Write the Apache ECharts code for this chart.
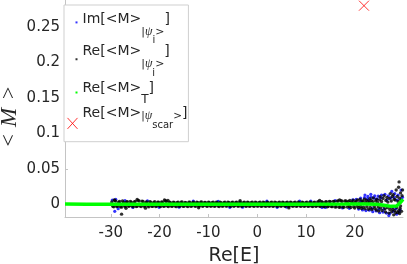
<!DOCTYPE html>
<html>
<head>
<meta charset="utf-8">
<script src="https://cdn.jsdelivr.net/npm/echarts@6/dist/echarts.min.js"></script>
<style>
html,body{margin:0;padding:0;background:#fff;}
#c{width:407px;height:264px;}
</style>
</head>
<body>
<div id="c"></div>
<script>
// ---- data ----
const xTicks = [-30, -20, -10, 0, 10, 20];
const yTicks = [0, 0.05, 0.1, 0.15, 0.2, 0.25];
const seriesNames = ['Im[<M>|ψi>]', 'Re[<M>|ψi>]', 'Re[<M>T]', 'Re[<M>|ψscar>]'];

// Im[<M>_|psi_i>]  (blue dots)
const imPoints = [
[-29.7,0.0058],[-29.2,-0.0100],[-29.0,0.0070],[-28.5,-0.0062],[-27.1,0.0052],
[-25.5,-0.0045],[-22.5,0.0048],[-20.1,-0.0044],[-16.0,-0.0042],[-13.1,0.0044],[-8.0,0.0042],[-5.6,-0.0043],
[-3.0,-0.0041],[2.0,0.0043],[4.1,-0.0044],[6.0,-0.0040],[8.7,0.0045],[11.0,0.0045],[13.3,-0.0046],[14.0,-0.0045],
[16.0,0.0050],[17.5,-0.0052],
[18.9,-0.0058],[19.6,0.0062],[20.3,0.0070],[20.8,-0.0068],[21.2,0.0085],[21.3,0.0045],[21.6,-0.0080],[22.0,0.0095],
[22.1,0.0130],[22.3,-0.0090],[22.6,0.0075],[22.7,0.0110],[22.9,0.0060],[23.0,-0.0085],[23.3,0.0140],[23.4,0.0100],
[23.6,-0.0060],[23.7,-0.0105],[24.0,0.0085],[24.1,0.0120],[24.4,-0.0095],[24.6,0.0075],[24.8,0.0115],[25.0,-0.0070],
[25.1,-0.0120],[25.4,0.0090],[25.5,0.0130],[25.8,-0.0110],[26.0,-0.0070],[26.2,0.0140],[26.5,-0.0125],[26.6,0.0060],
[26.9,0.0120],[27.0,-0.0160],[27.2,-0.0130],[27.4,0.0090],[27.6,0.0180],[27.8,-0.0040],[27.9,-0.0100],[28.1,0.0100],
[28.2,0.0150],[28.4,-0.0065],[28.6,-0.0140],[28.7,0.0060],[28.9,0.0130],[29.1,-0.0110],[29.3,-0.0080],[29.5,0.0200],
[29.6,0.0070],[29.8,0.0100]
];

// Re[<M>_|psi_i>]  (black dots)
const rePoints = [
[-29.8,0.0031],[-29.4,-0.0036],[-29.0,0.0044],[-28.6,-0.0027],[-28.2,0.0038],[-27.8,-0.0041],[-27.4,0.0025],[-27.0,-0.0033],[-26.6,0.0036],[-26.2,-0.0024],
[-25.8,0.0029],[-25.4,-0.0035],[-25.0,0.0041],[-24.6,-0.0028],[-24.2,0.0046],[-23.8,-0.0031],[-23.4,0.0038],[-23.0,-0.0026],[-22.6,0.0033],[-22.2,-0.0037],
[-21.8,0.0027],[-21.4,-0.0030],[-21.0,0.0035],[-20.6,-0.0024],[-20.2,0.0030],[-19.8,-0.0033],[-19.4,0.0028],[-19.0,-0.0027],[-18.6,0.0039],[-18.2,-0.0031],
[-17.8,0.0026],[-17.4,-0.0029],[-17.0,0.0024],[-16.6,-0.0034],[-16.2,0.0029],[-15.8,-0.0025],[-15.4,0.0031],[-15.0,-0.0028],[-14.6,0.0023],[-14.2,-0.0032],
[-13.8,0.0027],[-13.4,-0.0024],[-13.0,0.0030],[-12.6,-0.0029],[-12.2,0.0025],[-11.8,-0.0026],[-11.4,0.0032],[-11.0,-0.0023],[-10.6,0.0026],[-10.2,-0.0030],
[-9.8,0.0024],[-9.4,-0.0027],[-9.0,0.0029],[-8.6,-0.0024],[-8.2,0.0026],[-7.8,-0.0031],[-7.4,0.0023],[-7.0,-0.0025],[-6.6,0.0028],[-6.2,-0.0026],
[-5.8,0.0024],[-5.4,-0.0029],[-5.0,0.0027],[-4.6,-0.0023],[-4.2,0.0030],[-3.8,-0.0027],[-3.4,0.0025],[-3.0,-0.0024],[-2.6,0.0029],[-2.2,-0.0028],
[-1.8,0.0024],[-1.4,-0.0026],[-1.0,0.0027],[-0.6,-0.0030],[-0.2,0.0025],[0.2,-0.0024],[0.6,0.0028],[1.0,-0.0027],[1.4,0.0024],[1.8,-0.0029],
[2.2,0.0026],[2.6,-0.0025],[3.0,0.0030],[3.4,-0.0026],[3.8,0.0024],[4.2,-0.0028],[4.6,0.0027],[5.0,-0.0024],[5.4,0.0025],[5.8,-0.0030],
[6.2,0.0028],[6.6,-0.0026],[7.0,0.0024],[7.4,-0.0027],[7.8,0.0029],[8.2,-0.0025],[8.6,0.0026],[9.0,-0.0029],[9.4,0.0025],[9.8,-0.0024],
[10.2,0.0030],[10.6,-0.0027],[11.0,0.0026],[11.4,-0.0031],[11.8,0.0028],[12.2,-0.0026],[12.6,0.0033],[13.0,-0.0029],[13.4,0.0030],[13.8,-0.0032],
[14.2,0.0035],[14.6,-0.0030],[15.0,0.0037],[15.4,-0.0034],[15.8,0.0040],[16.2,-0.0036],[16.6,0.0046],[17.0,-0.0039],[17.4,0.0043],[17.8,-0.0041],[18.2,0.0048],
[-29.6,-0.0028],[-29.2,0.0052],[-28.8,-0.0033],[-28.4,0.0029],[-28.0,-0.0037],[-27.6,0.0047],[-27.2,-0.0026],[-26.8,0.0031],[-26.4,-0.0030],[-26.0,0.0040],
[-25.6,-0.0027],[-25.2,0.0033],[-24.8,-0.0032],[-24.4,0.0054],[-24.0,-0.0025],[-23.6,0.0044],[-23.2,-0.0030],[-22.8,0.0028],[-22.4,-0.0026],[-22.0,0.0036],
[-21.6,-0.0029],[-21.2,0.0024],[-20.8,-0.0032],[-20.4,0.0027],[-20.0,-0.0025],[-19.6,0.0033],[-19.2,-0.0028],[-18.8,0.0049],[-18.4,-0.0026],[-18.0,0.0030],
[-17.6,-0.0027],[-17.2,0.0028],[-16.8,-0.0024],[-16.4,0.0025],[-16.0,-0.0029],[-15.6,0.0027],[-15.2,-0.0030],[-14.8,0.0026],[-14.4,-0.0025],[-14.0,0.0029],
[-13.6,-0.0028],[-13.2,0.0024],[-12.8,-0.0026],[-12.4,0.0029],[-12.0,-0.0024],[-11.6,0.0027],[-11.2,-0.0029],[-10.8,0.0025],[-10.4,-0.0024],[-10.0,0.0028],
[-9.6,-0.0026],[-9.2,0.0024],[-8.8,-0.0029],[-8.4,0.0027],[-8.0,-0.0025],[-7.6,0.0028],[-7.2,-0.0027],[-6.8,0.0025],[-6.4,-0.0024],[-6.0,0.0029],
[-5.6,-0.0026],[-5.2,0.0024],[-4.8,-0.0028],[-4.4,0.0025],[-4.0,-0.0026],[-3.6,0.0028],[-3.2,-0.0029],[-2.8,0.0024],[-2.4,-0.0025],[-2.0,0.0027],
[-1.6,-0.0028],[-1.2,0.0025],[-0.8,-0.0024],[-0.4,0.0029],[0.0,-0.0026],[0.4,0.0024],[0.8,-0.0028],[1.2,0.0027],[1.6,-0.0024],[2.0,0.0029],
[2.4,-0.0027],[2.8,0.0025],[3.2,-0.0029],[3.6,0.0028],[4.0,-0.0025],[4.4,0.0024],[4.8,-0.0027],[5.2,0.0029],[5.6,-0.0025],[6.0,0.0026],
[6.4,-0.0029],[6.8,0.0027],[7.2,-0.0024],[7.6,0.0025],[8.0,-0.0028],[8.4,0.0029],[8.8,-0.0026],[9.2,0.0027],[9.6,-0.0029],[10.0,0.0024],
[10.4,-0.0028],[10.8,0.0029],[11.2,-0.0027],[11.6,0.0026],[12.0,-0.0030],[12.4,0.0031],[12.8,-0.0028],[13.2,0.0034],[13.6,-0.0031],[14.0,0.0033],
[14.4,-0.0035],[14.8,0.0038],[15.2,-0.0033],[15.6,0.0041],[16.0,-0.0038],[16.4,0.0044],[16.8,-0.0042],[17.2,0.0050],[17.6,-0.0040],[18.0,0.0045],
[-29.3,0.0062],[-27.8,-0.0140],[-26.9,-0.0058],[-24.6,0.0068],[-22.9,-0.0055],[-19.0,0.0060],[-18.3,0.0055],[-12.0,-0.0050],
[-3.5,0.0050],[6.5,-0.0052],[12.8,0.0055],[16.9,0.0062],
[18.4,0.0022],[18.5,-0.0038],[18.7,0.0041],[18.9,-0.0030],[19.0,0.0052],[19.2,-0.0047],[19.4,0.0033],[19.5,0.0018],[19.7,0.0058],[19.8,-0.0036],
[20.0,-0.0054],[20.1,0.0029],[20.3,0.0044],[20.5,-0.0028],[20.6,0.0062],[20.8,-0.0049],[20.9,0.0020],[21.1,0.0066],[21.2,-0.0031],[21.4,-0.0060],
[21.5,0.0035],[21.7,0.0048],[21.8,-0.0042],[22.0,0.0072],[22.1,-0.0065],[22.2,0.0026],[22.4,0.0058],[22.5,-0.0033],[22.7,0.0041],[22.8,-0.0070],
[23.0,0.0030],[23.1,0.0078],[23.2,-0.0045],[23.4,0.0052],[23.5,-0.0075],[23.7,0.0036],[23.8,0.0090],[24.0,-0.0028],[24.1,-0.0058],[24.3,0.0047],
[24.4,-0.0082],[24.5,0.0068],[24.7,0.0025],[24.8,-0.0040],[24.9,-0.0095],[25.1,0.0062],[25.2,0.0105],[25.3,-0.0052],[25.5,0.0038],[25.6,-0.0088],
[25.8,0.0080],[25.9,-0.0030],[26.0,0.0120],[26.2,-0.0065],[26.3,-0.0110],[26.4,0.0052],[26.6,0.0095],[26.7,-0.0048],[26.8,0.0030],[27.0,-0.0125],
[27.1,0.0080],[27.2,-0.0075],[27.3,0.0150],[27.4,-0.0036],[27.5,0.0045],[27.6,-0.0105],[27.7,0.0110],[27.8,-0.0070],[27.9,0.0135],[28.0,-0.0150],
[28.1,0.0070],[28.2,-0.0090],[28.3,0.0060],[28.4,-0.0120],[28.5,0.0200],[28.6,-0.0045],[28.7,0.0110],[28.8,-0.0115],[28.9,0.0040],[29.0,0.0240],
[29.0,-0.0090],[29.1,0.0315],[29.2,0.0085],[29.2,-0.0130],[29.3,-0.0060],[29.4,0.0160],[29.4,-0.0025],[29.5,0.0050],[29.6,-0.0100],[29.7,0.0120],[29.8,0.0200]
];

// Re[<M>_T]  (green)
const reTPoints = [
[-39.4,0.0002],[-35.0,0.0001],[-30.0,0.0],[-20.0,0.0],[-10.0,0.0],[0.0,0.0],[10.0,0.0],[18.0,0.0003],
[22.0,0.0005],[24.5,0.0],[26.0,-0.0015],[27.5,-0.0030],[28.6,-0.0025],[29.3,0.0020],[29.9,0.0070]
];

// Re[<M>_|psi_scar>]  (red cross)
const scarPoints = [[21.9, 0.280]];

// ---- chart ----
const TXT = '#262626';
const AX = '#c4c4c4';
const legendLabels = {};
legendLabels[seriesNames[0]] = '{m1|Im[<M>}{a1||}{p1|ψ}{i1|i}{a1|>}{m1|]}';
legendLabels[seriesNames[1]] = '{m2|Re[<M>}{a1||}{p1|ψ}{i1|i}{a1|>}{m2|]}';
legendLabels[seriesNames[2]] = '{m3|Re[<M>}{t3|T}{m3|]}';
legendLabels[seriesNames[3]] = '{m4|Re[<M>}{a4||}{p4|ψ}{s4|scar}{a4|>}{m4|]}';

function mainStyle(h) {
  return {fontFamily: 'DejaVu Sans', fontSize: 14, height: 14, lineHeight: h, color: TXT,
          verticalAlign: 'top', padding: [0, 0, h - 14, 0]};
}
function subStyle(family, size, top, italic) {
  return {fontFamily: family, fontSize: size, height: size, color: TXT, verticalAlign: 'top',
          fontStyle: italic ? 'italic' : 'normal', padding: [top, 0, 0, 0]};
}

const chart = echarts.init(document.getElementById('c'), null, {renderer: 'canvas'});
chart.setOption({
  animation: false,
  backgroundColor: '#ffffff',
  grid: {left: 65, right: 4, top: 0, bottom: 47, containLabel: false, outerBoundsMode: 'none'},
  xAxis: {
    type: 'value', min: -39.4, max: 29.9,
    name: 'Re[E]', nameLocation: 'middle', nameGap: 30, nameMoveOverlap: false,
    nameTextStyle: {fontFamily: 'DejaVu Sans', fontSize: 19, color: TXT},
    axisLine: {show: true, onZero: false, lineStyle: {color: AX, width: 1}},
    axisTick: {show: true, inside: true, length: 3, customValues: xTicks, lineStyle: {color: AX}},
    axisLabel: {customValues: xTicks, margin: 9, fontFamily: 'DejaVu Sans', fontSize: 15, color: TXT},
    splitLine: {show: false}
  },
  yAxis: {
    type: 'value', min: -0.018, max: 0.288,
    name: '{a|<}{b|M}{c|>}', nameLocation: 'middle', nameRotate: 90, nameGap: 44, nameMoveOverlap: false,
    nameTextStyle: {
      color: TXT,
      rich: {
        a: {fontFamily: 'Liberation Serif', fontSize: 22, color: TXT},
        b: {fontFamily: 'Liberation Serif', fontStyle: 'italic', fontSize: 23, color: TXT, padding: [0, 9, 0, 7]},
        c: {fontFamily: 'Liberation Serif', fontSize: 22, color: TXT, padding: [0, 16, 0, 0]}
      }
    },
    axisLine: {show: true, onZero: false, lineStyle: {color: AX, width: 1}},
    axisTick: {show: true, inside: true, length: 3, customValues: yTicks, lineStyle: {color: AX}},
    axisLabel: {customValues: yTicks, margin: 5, fontFamily: 'DejaVu Sans', fontSize: 15, color: TXT},
    splitLine: {show: false}
  },
  legend: {
    orient: 'vertical', left: 64, top: 5,
    itemWidth: 10, itemHeight: 24, itemGap: -1.1,
    padding: [7.5, 1, 8.4, 1],
    backgroundColor: '#ffffff', borderColor: '#cfcfcf', borderWidth: 1, borderRadius: 0,
    selectedMode: false,
    formatter: function (name) { return legendLabels[name]; },
    textStyle: {
      color: TXT,
      rich: {
        m1: mainStyle(33.4),
        m2: mainStyle(37.7),
        m3: mainStyle(24),
        m4: mainStyle(24),
        a1: subStyle('DejaVu Sans', 11, 13.8, false),
        p1: subStyle('Liberation Serif', 12, 13.3, true),
        i1: subStyle('DejaVu Sans', 10, 23.3, false),
        t3: subStyle('DejaVu Sans', 12, 12, false),
        a4: subStyle('DejaVu Sans', 10.5, 4, false),
        p4: subStyle('Liberation Serif', 12, 3.3, true),
        s4: subStyle('DejaVu Sans', 10, 13.3, false)
      }
    },
    data: [
      {name: seriesNames[0], icon: 'path://M0 0M10 24M8 4.2h2v2h-2z', itemStyle: {color: '#0000ff', borderWidth: 0}},
      {name: seriesNames[1], icon: 'path://M0 0M10 24M8 6.6h2v2h-2z', itemStyle: {color: '#000000', borderWidth: 0}},
      {name: seriesNames[2], icon: 'path://M0 0M10 24M8 10.1h2v2h-2z', itemStyle: {color: '#00ff00', borderWidth: 0}},
      {name: seriesNames[3], icon: 'path://M0 0M10 24M0 11.1L10 22.1M10 11.1L0 22.1', itemStyle: {color: 'none', borderColor: '#ff0000', borderWidth: 1}}
    ]
  },
  series: [
    {name: seriesNames[0], type: 'scatter', data: imPoints, symbol: 'circle', symbolSize: 3.2,
     itemStyle: {color: '#0000ff', borderWidth: 0}, silent: true, z: 2},
    {name: seriesNames[1], type: 'scatter', data: rePoints, symbol: 'circle', symbolSize: 3.4,
     itemStyle: {color: '#000000', borderWidth: 0}, silent: true, z: 3},
    {name: seriesNames[2], type: 'line', data: reTPoints, symbol: 'none', showSymbol: false,
     lineStyle: {color: '#00ff00', width: 3.5}, itemStyle: {color: '#00ff00'}, silent: true, z: 4},
    {name: seriesNames[3], type: 'scatter', data: scarPoints,
     symbol: 'path://M0 0L10 10M10 0L0 10', symbolSize: 10,
     itemStyle: {color: 'none', borderColor: '#ff0000', borderWidth: 1}, silent: true, z: 5}
  ]
});
</script>
</body>
</html>
